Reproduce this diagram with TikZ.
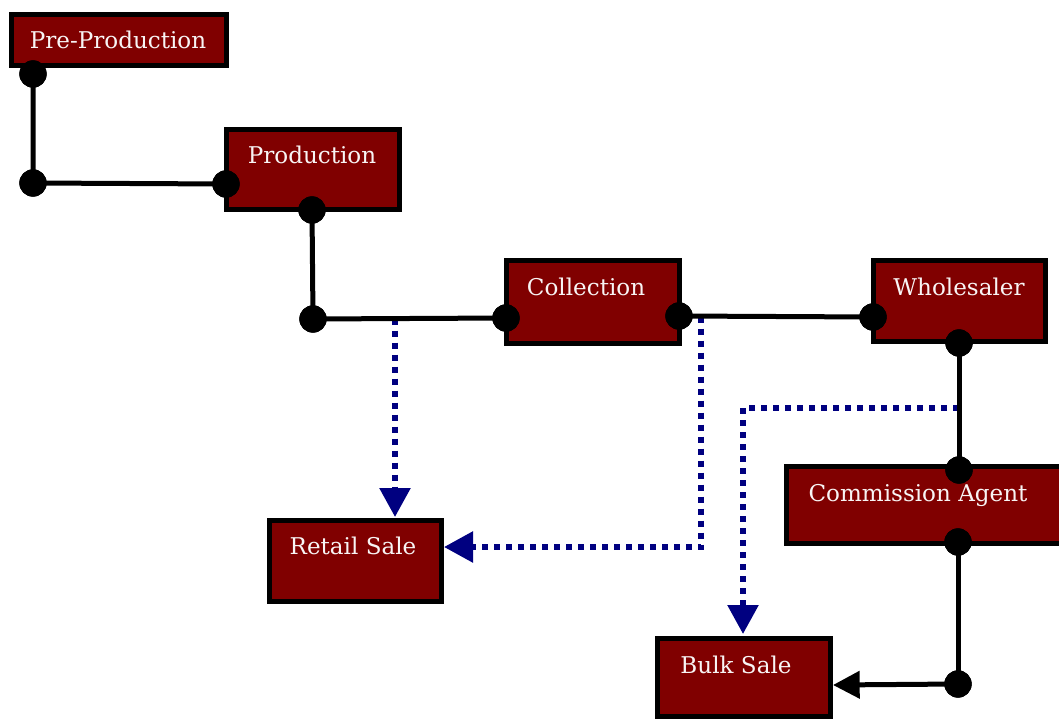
\documentclass[tikz,border=0pt]{standalone}
\usepackage{fontspec}
\setmainfont{DejaVu Serif}
\usetikzlibrary{arrows.meta}
\definecolor{boxred}{HTML}{800000}
\definecolor{navyb}{HTML}{000080}
\definecolor{txtw}{HTML}{F8F4F4}
\tikzset{
  x=0.75pt, y=-0.75pt,
  stagebox/.style 2 args={draw=black, line width=3.9pt, fill=boxred, rectangle, inner sep=0pt,
    minimum width=#1*0.75pt, minimum height=#2*0.75pt},
  lbl/.style={text=txtw, anchor=base, inner sep=0pt, font=\fontsize{17.3}{20}\selectfont},
  dot/.style={circle, fill=black, draw=none, minimum size=20.5pt, inner sep=0pt},
  link/.style={draw=black, line width=3.75pt},
  flow/.style={draw=navyb, line width=4.2pt, dash pattern=on 4.5pt off 4.5pt,
    -{Triangle[length=21.75pt, width=22.5pt, fill=navyb]}},
  push/.style={draw=black, line width=3.75pt, -{Triangle[length=20pt, width=20pt]}}
}
\begin{document}
\begin{tikzpicture}
\useasboundingbox (0,0) rectangle (1059,720);
% boxes
\node[stagebox={215}{51}] (pre) at (119,40) {};
\node[stagebox={173}{80}] (prod) at (313,169.5) {};
\node[stagebox={173}{83}] (coll) at (593,302) {};
\node[stagebox={172}{81}] (whole) at (959.5,301) {};
\node[stagebox={277}{77}] (comm) at (925,505) {};
\node[stagebox={172}{81}] (retail) at (355.5,561) {};
\node[stagebox={173}{78}] (bulk) at (744,677.5) {};
% labels
\node[lbl] at (118,49) {Pre-Production};
\node[lbl] at (312,164) {Production};
\node[lbl] at (586,295) {Collection};
\node[lbl] at (959,295) {Wholesaler};
\node[lbl] at (918,501) {Commission Agent};
\node[lbl] at (353,554) {Retail Sale};
\node[lbl] at (736,673) {Bulk Sale};
% dots
\node[dot] (d1) at (33,74) {};
\node[dot] (d2) at (33,183) {};
\node[dot] (d3) at (226,184) {};
\node[dot] (d4) at (312,210) {};
\node[dot] (d5) at (313,319) {};
\node[dot] (d6) at (506,318) {};
\node[dot] (d7) at (679,316) {};
\node[dot] (d8) at (873,317) {};
\node[dot] (d9) at (959,343) {};
\node[dot] (d10) at (959,470) {};
\node[dot] (d11) at (958,542) {};
\node[dot] (d12) at (958,684) {};
% branch coordinates
\coordinate (b1) at (395,318.5);
\coordinate (b2) at (701,316.5);
\coordinate (b2c) at (701,547);
\coordinate (r2) at (444,547);
\coordinate (b3) at (959,408);
\coordinate (b3c) at (743,408);
\coordinate (r3) at (743,634);
\coordinate (r1) at (395,517);
% blue dotted flows
\draw[flow] (b1) -- (r1);
\draw[flow] (b2) -- (b2c) -- (r2);
\draw[flow] (b3) -- (b3c) -- (r3);
% black links
\draw[link] (d1.center) -- (d2.center) -- (d3.center);
\draw[link] (d4.center) -- (d5.center) -- (d6.center);
\draw[link] (d7.center) -- (d8.center);
\draw[link] (d9.center) -- (d10.center);
\draw[link] (d11.center) -- (d12.center);
\coordinate (bk) at (833,685);
\draw[push] (d12.center) -- (bk);
% dots on top of links
\foreach \n in {d1,d2,d3,d4,d5,d6,d7,d8,d9,d10,d11,d12}
  \fill (\n) circle (10.25pt);
\end{tikzpicture}
\end{document}
